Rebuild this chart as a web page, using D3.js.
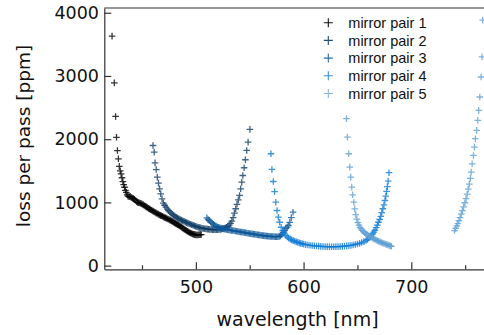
<!DOCTYPE html>
<html><head><meta charset="utf-8">
<script src="https://cdn.jsdelivr.net/npm/d3@7"></script>
<style>body{margin:0;background:#fff;overflow:hidden}</style>
</head><body><svg id="c" width="484" height="335"></svg>
<script>
const seriesNames = ["mirror pair 1","mirror pair 2","mirror pair 3","mirror pair 4","mirror pair 5"];
const seriesColors = ["#000000","#0f3c64","#0c5899","#0b7bd6","#5e9fd3"];
const legendColors = ["#111111","#1f4a72","#2a6aa5","#3b8fd9","#8ab4d8"];

const pair1 = [[422.2,3630],[424.3,2890],[425.5,2360],[426.3,2030],[427.2,1820],[428.1,1690],[428.9,1570],[429.8,1500],[430.6,1450],[431.4,1390],[432.2,1330],[433.0,1280],[433.8,1240],[434.6,1190],[435.4,1160],[436.2,1120],[437,1100],[438,1090],[439,1095],[440,1080],[441,1070],[442,1060],[443,1050],[444,1030],[445,1010],[446,1000],[447,995],[448,990],[449,985],[450,975],[451,965],[452,950],[453,940],[454,930],[455,920],[456,905],[457,895],[458,885],[459,875],[460,865],[461,855],[462,845],[463,835],[464,825],[465,815],[466,805],[467,795],[468,790],[469,780],[470,770],[471,762],[472,755],[473,745],[474,738],[475,730],[476,720],[477,712],[478,700],[479,690],[480,678],[481,668],[482,658],[483,648],[484,638],[485,628],[486,618],[487,605],[488,592],[489,580],[490,567],[491,555],[492,545],[493,535],[494,525],[495,515],[496,508],[497,500],[498,495],[499,490],[500,487],[501,485],[502,486],[503,488],[504,490],[505,492]];

const pair2 = [[460.2,1900],[461.3,1795],[462.1,1625],[463.2,1520],[464.2,1400],[465.3,1305],[466.3,1215],[467.4,1136],[468.6,1057],[469.8,990],[471,955],[472.2,925],[473.4,895],[474.6,870],[475.8,850],[477,830],[478.2,812],[479.4,795],[480.6,778],[481.8,765],[483,752],[484.2,740],[485.4,730],[486.6,720],[487.8,710],[489,700],[490.2,690],[491.4,680],[492.6,672],[493.8,663],[495,655],[496.2,646],[497.4,638],[498.6,630],[499.8,622],[501,615],[502.2,608],[503.4,602],[504.6,597],[505.8,592],[507,588],[508.2,584],[509.4,581],[510.6,578],[511.8,576],[513,574],[514.2,572],[515.4,570],[516.6,569],[517.8,568],[519,568],[520.2,569],[521.4,571],[522.6,574],[523.8,578],[525,583],[526.2,590],[527.4,598],[528.6,608],[529.8,620],[531,640],[532.2,668],[533.4,705],[534.6,760],[535.8,830],[537,900],[538.2,970],[539.4,1040],[540.6,1110],[541.6,1215],[542.6,1320],[543.6,1426],[544.8,1548],[546,1675],[547.2,1822],[548.5,1954],[550.2,2155]];

const pair3 = [[510.2,756],[511.4,730],[512.6,713],[513.8,690],[515,672],[516.2,655],[517.4,640],[518.6,628],[519.8,615],[521,607],[522.2,600],[523.4,595],[524.6,588],[525.8,582],[527,578],[528.2,574],[529.4,570],[530.6,566],[531.8,562],[533,558],[534.2,555],[535.4,552],[536.6,548],[537.8,545],[539,541],[540.2,537],[541.4,533],[542.6,530],[543.8,527],[545,523],[546.2,520],[547.4,516],[548.6,512],[549.8,508],[551,505],[552.2,502],[553.4,499],[554.6,496],[555.8,492],[557,489],[558.2,486],[559.4,483],[560.6,480],[561.8,477],[563,474],[564.2,471],[565.4,469],[566.6,467],[567.8,465],[569,463],[570.2,461],[571.4,460],[572.6,459],[573.8,458],[575,458],[576.2,458],[577.4,462],[578.6,470],[579.8,490],[581,525],[582.3,555],[583.6,585],[584.8,610],[585.9,635],[587.2,685],[588.6,760],[590.2,845]];

const pair4 = [[569.7,1770],[570.6,1521],[571.9,1331],[573.1,1172],[574.2,1003],[575.4,872],[576.6,766],[577.8,686],[579.2,607],[580.6,555],[582,515],[583.4,480],[584.8,455],[586.2,435],[587.6,420],[589,408],[590.4,396],[591.8,386],[593.2,376],[594.6,368],[596,360],[597.4,352],[598.8,346],[600.2,340],[602,333],[604,327],[606,322],[608,318],[610,314],[612,311],[614,308],[616,305],[618,303],[620,301],[622,300],[624,299],[626,299],[628,299],[630,300],[632,301],[634,303],[636,305],[638,308],[640,312],[642,316],[644,321],[646,327],[648,334],[650,342],[652,352],[654,365],[656,380],[658,398],[659.5,415],[661,440],[662.5,470],[664,500],[665.2,530],[666.3,560],[667.4,600],[668.5,640],[669.5,686],[670.6,730],[671.6,780],[672.6,840],[673.6,900],[674.6,960],[675.5,1030],[676.3,1100],[677.1,1175],[677.8,1250],[678.5,1336],[679.3,1470]];

const pair5 = [[639.8,2325],[640.7,2033],[641.9,1770],[642.9,1558],[643.8,1400],[644.7,1241],[645.6,1120],[646.6,1003],[647.5,898],[648.4,808],[649.4,735],[650.4,680],[651.4,640],[652.4,605],[653.4,580],[654.5,558],[655.6,538],[656.7,520],[657.8,505],[659,490],[660.2,476],[661.4,463],[662.6,450],[663.8,438],[665,426],[666.2,415],[667.4,404],[668.6,394],[669.8,384],[671,375],[672.2,366],[673.4,358],[674.6,350],[675.8,342],[677,335],[678.2,328],[679.4,320],[680.6,313],[681.5,306],
[740.1,555],[741.2,590],[742.2,630],[743.2,665],[744.2,710],[745.3,760],[746.4,815],[747.5,870],[748.6,930],[749.7,995],[750.8,1060],[751.9,1130],[752.9,1210],[753.9,1290],[754.8,1380],[755.6,1479],[756.5,1611],[757.7,1743],[758.6,1875],[759.5,2008],[760.7,2140],[761.7,2298],[762.6,2456],[763.6,2667],[764.8,2984],[765.7,3301],[766.3,3883]];

const xTicksMajor = [500,600,700];
const xTicksMinor = [450,550,650,750];
const yTicks = [0,1000,2000,3000,4000];
const xTitle = "wavelength [nm]";
const yTitle = "loss per pass [ppm]";

const allSeries = [pair1,pair2,pair3,pair4,pair5];

const svg = d3.select("#c");
const mLeft = 104.3, mRight = 484, mTop = 8, mBottom = 269.3;
const x = d3.scaleLinear().domain([415,767.5]).range([mLeft,mRight]);
const y = d3.scaleLinear().domain([-58,4075]).range([mBottom,mTop]);

const axisColor = "#333";
const tickFont = "DejaVu Sans, Verdana, sans-serif";

// data
const plot = svg.append("g");
allSeries.forEach((s,i)=>{
  plot.append("g").selectAll("path").data(s).join("path")
    .attr("transform", d=>`translate(${x(d[0])},${y(d[1])})`)
    .attr("d","M-3.3,0H3.3M0,-3.3V3.3")
    .attr("fill","none")
    .attr("stroke", seriesColors[i])
    .attr("stroke-opacity", 0.8)
    .attr("stroke-width", 1.3);
});

// axes
const gx = svg.append("g").attr("transform",`translate(0,${mBottom})`)
  .call(d3.axisBottom(x).tickValues(xTicksMajor).tickSize(-7).tickSizeOuter(0).tickPadding(11.6).tickFormat(d3.format("d")));
const gxm = svg.append("g").attr("transform",`translate(0,${mBottom})`)
  .call(d3.axisBottom(x).tickValues(xTicksMinor).tickSize(-4).tickSizeOuter(0).tickFormat(""));
gxm.select(".domain").remove();
const gy = svg.append("g").attr("transform",`translate(${mLeft},0)`)
  .call(d3.axisLeft(y).tickValues(yTicks).tickSize(-7).tickSizeOuter(0).tickPadding(5.3).tickFormat(d3.format("d")));
[gx,gxm,gy].forEach(g=>{
  g.selectAll(".domain,line").attr("stroke",axisColor).attr("stroke-width",1.2);
  g.selectAll("text").attr("fill","#111").style("font-family",tickFont).style("font-size","17.5px");
});
svg.append("line").attr("x1",mLeft).attr("x2",mRight).attr("y1",mTop).attr("y2",mTop)
  .attr("stroke",axisColor).attr("stroke-width",1.2);

// titles
svg.append("text").attr("x",297.5).attr("y",326).attr("text-anchor","middle")
  .style("font-family",tickFont).style("font-size","19px").attr("fill","#111").text(xTitle);
svg.append("text").attr("transform","translate(30,136) rotate(-90)").attr("text-anchor","middle")
  .style("font-family",tickFont).style("font-size","18.5px").attr("fill","#111").text(yTitle);

// legend
const lg = svg.append("g");
seriesNames.forEach((n,i)=>{
  const yy = 22.7 + i*17.7;
  lg.append("path").attr("transform",`translate(328.3,${yy})`).attr("d","M-4.5,0H4.5M0,-4.5V4.5")
    .attr("stroke",legendColors[i]).attr("stroke-width",1.1).attr("fill","none");
  lg.append("text").attr("x",348.3).attr("y",yy).attr("dy","0.36em")
    .style("font-family","Liberation Sans, Arial, sans-serif").style("font-size","14.5px").attr("fill","#111").text(n);
});
</script></body></html>
